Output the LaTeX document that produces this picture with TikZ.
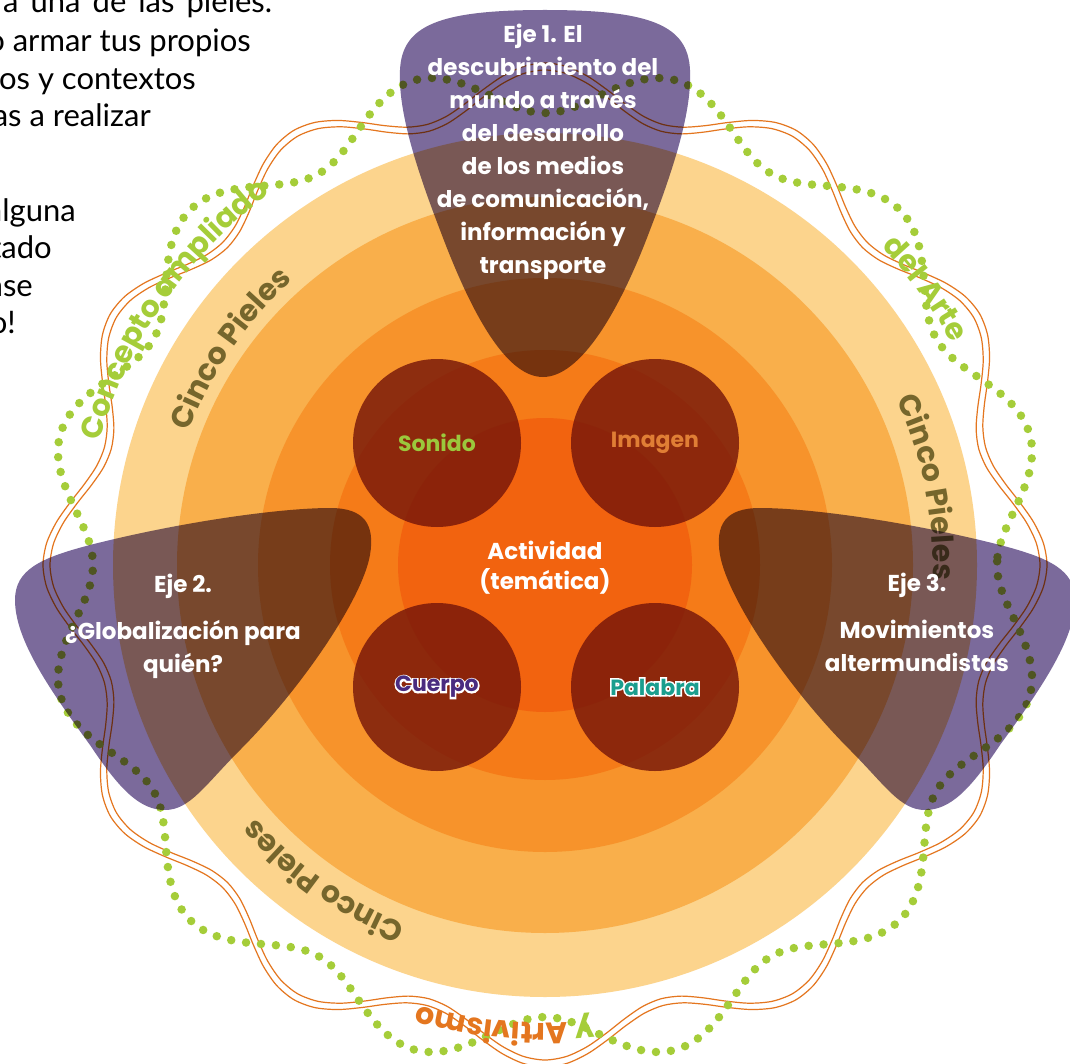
\documentclass[tikz,border=0pt]{standalone}
\usepackage{fontspec}
\usetikzlibrary{positioning, math, decorations.text}

\newfontfamily\handfont{Poppins}
\newfontfamily\bookfont{Lato}

\definecolor{piel1}{HTML}{FCD48D}
\definecolor{piel2}{HTML}{F9AF4B}
\definecolor{piel3}{HTML}{F7932B}
\definecolor{piel4}{HTML}{F57B18}
\definecolor{piel5}{HTML}{F2630F}
\definecolor{medio}{HTML}{731409}
\definecolor{morado}{HTML}{7B6A9B}
\definecolor{verde}{HTML}{A5CD39}
\definecolor{naranja}{HTML}{E4761F}
\definecolor{oliva}{HTML}{76662C}
\definecolor{sonido}{HTML}{9BC83C}
\definecolor{imagen}{HTML}{E07E35}
\definecolor{cuerpo}{HTML}{4A2C80}
\definecolor{palabra}{HTML}{1B9E8E}

\newcommand{\ejefont}{\handfont\bfseries\fontsize{23}{33}\selectfont}
\newcommand{\medfont}{\handfont\bfseries\fontsize{22}{26}\selectfont}
\newcommand{\arcfont}{\handfont\bfseries\fontsize{30}{30}\selectfont}
\newcommand{\bookline}{\bookfont\fontsize{31}{37}\selectfont}
\newcommand{\halo}[1]{\rlap{\color{white}\addfontfeature{FakeBold=14}#1}#1}
\newcommand{\ejeshape}{(15,600) .. controls (15,570) and (40,558) .. (90,545)
  .. controls (180,522) and (280,508) .. (330,508)
  .. controls (365,508) and (375,525) .. (370,555)
  .. controls (362,600) and (300,690) .. (240,750)
  .. controls (205,785) and (190,810) .. (165,810)
  .. controls (140,810) and (120,790) .. (90,745)
  .. controls (50,690) and (15,640) .. (15,600) -- cycle}

\tikzset{
piel/.style={circle, inner sep=0pt, draw=none},
medio/.style={circle, inner sep=0pt, minimum size=168, fill=medio, fill opacity=0.8, text opacity=1, font=\medfont},
eje/.style={align=center, text=white, font=\ejefont, inner sep=0pt},
onda/.style={draw=naranja, line width=1.2},
puntos/.style={draw=verde, line width=8.5, line cap=round, dash pattern=on 0pt off 15pt},
mancha/.style={fill=morado},
parrafo/.style={font=\bookline, inner sep=0pt},
arcotexto/.style 2 args={decorate, decoration={text along path, text align=center, text={|\arcfont\color{#1}|#2}}},
}

\begin{document}
\begin{tikzpicture}[x=1pt, y=-1pt]
    \tikzmath{ \cx=545; \cy=565; };  % centre of the skins

    \useasboundingbox (0,0) rectangle (1070,1064);
    \clip (0,0) rectangle (1070,1064);
    \fill[white] (0,0) rectangle (1070,1064);

    %skins, outer to inner
    \node[piel, fill=piel1, minimum size=864] (piel1) at (\cx,\cy) { };
    \node[piel, fill=piel2, minimum size=736] (piel2) at (\cx,\cy) { };
    \node[piel, fill=piel3, minimum size=574] (piel3) at (\cx,\cy) { };
    \node[piel, fill=piel4, minimum size=430] (piel4) at (\cx,\cy) { };
    \node[piel, fill=piel5, minimum size=294] (piel5) at (\cx,\cy) { };

    %waves round the skins
    \begin{scope}[shift={(\cx,\cy)}, y=1pt]
        \draw[onda] plot[smooth cycle, domain=0:357.5, samples=144] (\x:{479+23*cos(12*\x)});
        \draw[onda] plot[smooth cycle, domain=0:357.5, samples=144] (\x:{472+23*cos(12*\x)});
        \draw[puntos] plot[smooth cycle, domain=0:359, samples=360] (\x:{477-25*cos(12*\x)});

        %texts on arcs
        \path[arcotexto={oliva}{Cinco Pieles}] (170:380) arc[start angle=170, end angle=121, radius=380];
        \path[arcotexto={oliva}{Cinco Pieles}] (31:388) arc[start angle=31, end angle=-8, radius=388];
        \path[arcotexto={oliva}{Cinco Pieles}] (255:385) arc[start angle=255, end angle=215, radius=385];
        \path[arcotexto={verde}{Concepto ampliado}] (175:462) arc[start angle=175, end angle=116, radius=462];
        \path[arcotexto={verde}{del Arte}] (55:463) arc[start angle=55, end angle=17, radius=463];
        \path[decorate, decoration={text along path, text align=center,
            text={|\arcfont\color{verde}|y |\arcfont\color{naranja}|Artivismo}}]
            (290:458) arc[start angle=290, end angle=240, radius=458];
    \end{scope}

    %media
    \node[medio, text=sonido]  (sonido)  at (437,443) {Sonido};
    \node[medio, text=imagen]  (imagen)  at (655,443) {Imagen};
    \node[medio, text=cuerpo]  (cuerpo)  at (437,687) {\halo{Cuerpo}};
    \node[medio, text=palabra] (palabra) at (655,687) {\halo{Palabra}};

    %axes
    \begin{scope}[blend mode=multiply]
        \fill[mancha] (543,377) .. controls (505,377) and (470,310) .. (440,230)
            .. controls (415,165) and (398,110) .. (400,70)
            .. controls (402,25) and (440,10) .. (545,10)
            .. controls (650,10) and (688,25) .. (690,70)
            .. controls (692,110) and (675,165) .. (650,230)
            .. controls (620,310) and (581,377) .. (543,377) -- cycle;
        \fill[mancha] \ejeshape;
        \begin{scope}[shift={(1090,0)}, xscale=-1]
            \fill[mancha] \ejeshape;
        \end{scope}
    \end{scope}

    \node[eje] (eje1) at (543,152) {Eje 1. El\\descubrimiento del\\mundo a través\\del desarrollo\\de los medios\\de comunicación,\\información y\\transporte};
    \node[eje] (eje2) at (183,626) {Eje 2.\\[14pt]¿Globalización para\\quién?};
    \node[eje] (eje3) at (917,622) {Eje 3.\\[14pt]Movimientos\\altermundistas};
    \node[eje] (actividad) at (\cx,568) {Actividad\\[-3pt](temática)};

    %page text
    \node[parrafo, anchor=base west] (linea1) at (3,13) {\makebox[269pt][s]{a una de las pieles.}};
    \node[parrafo, anchor=base east] (linea2) at (251,52) {o armar tus propios};
    \node[parrafo, anchor=base east] (linea3) at (196,90) {os y contextos};
    \node[parrafo, anchor=base east] (linea4) at (151,127) {as a realizar};
    \node[parrafo, anchor=base east] (linea5) at (76,222) {alguna};
    \node[parrafo, anchor=base east] (linea6) at (52,259) {tado};
    \node[parrafo, anchor=base east] (linea7) at (33,297) {ase};
    \node[parrafo, anchor=base east] (linea8) at (16,334) {o!};

\end{tikzpicture}
\end{document}
